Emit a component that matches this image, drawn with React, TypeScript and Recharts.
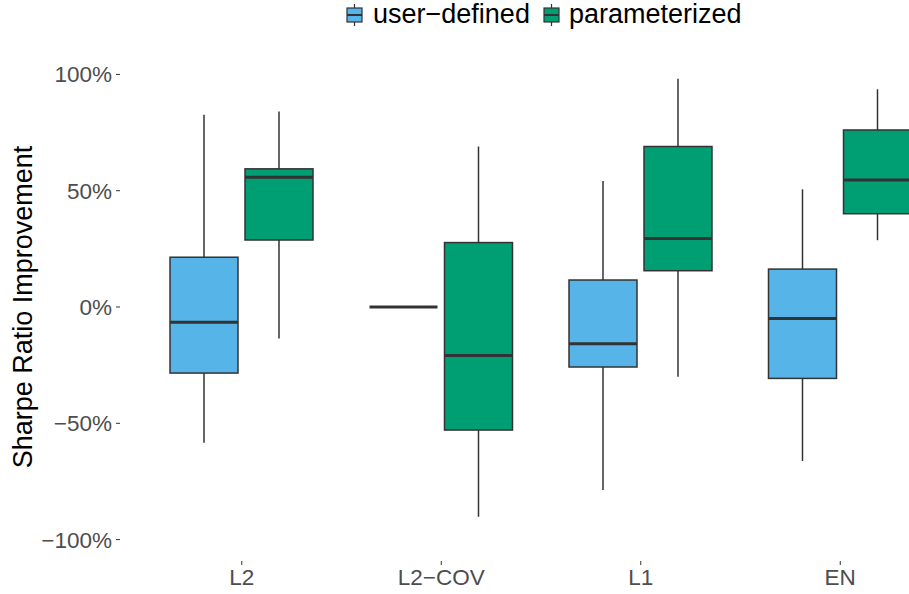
import React from "react";
import { BarChart, Bar, XAxis, YAxis, Legend } from "recharts";

const categories = ["L2", "L2\u2212COV", "L1", "EN"];

// user-defined boxes (% improvement)
const userMin = [-58.4, 0, -78.7, -66.2];
const userQ1 = [-28.4, 0, -25.8, -30.7];
const userMed = [-6.6, 0, -15.8, -4.9];
const userQ3 = [21.4, 0, 11.6, 16.3];
const userMax = [82.6, 0, 54.2, 50.6];

// parameterized boxes
const paramMin = [-13.5, -90.2, -30.0, 28.7];
const paramQ1 = [28.8, -52.9, 15.6, 40.1];
const paramMed = [55.8, -20.8, 29.4, 54.6];
const paramQ3 = [59.4, 27.7, 69.0, 76.1];
const paramMax = [84.0, 69.0, 98.1, 93.6];

const yTicks = [-100, -50, 0, 50, 100];

const BLUE = "#56B4E9";
const GREEN = "#009E73";
const DARK = "#333333";
const FONT = "'Liberation Sans', Arial, Helvetica, sans-serif";

const data = categories.map((cat, i) => ({
  cat,
  user: [userMin[i], userMax[i]],
  userQ1: userQ1[i],
  userMed: userMed[i],
  userQ3: userQ3[i],
  param: [paramMin[i], paramMax[i]],
  paramQ1: paramQ1[i],
  paramMed: paramMed[i],
  paramQ3: paramQ3[i],
}));

// draws a boxplot inside the range bar the library laid out (min..max)
const makeBox = (key: string, color: string) => (props: any) => {
  const { x, y, width, height, payload } = props;
  if (x == null || y == null) return <g />;
  const [lo, hi] = payload[key];
  const top = Math.min(y, y + height);
  const bottom = Math.max(y, y + height);
  const px = (v: number) => (hi === lo ? top : top + ((hi - v) / (hi - lo)) * (bottom - top));
  const cx = x + width / 2;
  const q1 = px(payload[key + "Q1"]);
  const q3 = px(payload[key + "Q3"]);
  const med = px(payload[key + "Med"]);
  if (hi === lo) {
    return <line x1={x} x2={x + width} y1={top} y2={top} stroke={DARK} strokeWidth={3} />;
  }
  return (
    <g>
      <line x1={cx} x2={cx} y1={top} y2={q3} stroke={DARK} strokeWidth={1.5} />
      <line x1={cx} x2={cx} y1={q1} y2={bottom} stroke={DARK} strokeWidth={1.5} />
      <rect x={x} y={q3} width={width} height={q1 - q3} fill={color} stroke={DARK} strokeWidth={1.5} />
      <line x1={x} x2={x + width} y1={med} y2={med} stroke={DARK} strokeWidth={3} />
    </g>
  );
};

const KeyIcon = ({ color }: { color: string }) => (
  <svg width={17} height={22} style={{ display: "block" }}>
    <line x1={8.5} x2={8.5} y1={0} y2={22} stroke={DARK} strokeWidth={1.2} />
    <rect x={1} y={4} width={15} height={14} fill={color} stroke={DARK} strokeWidth={1.2} />
    <line x1={1} x2={16} y1={11} y2={11} stroke={DARK} strokeWidth={2} />
  </svg>
);

const renderLegend = () => (
  <div style={{ position: "relative", height: 32, fontFamily: FONT, fontSize: 27, color: "#000" }}>
    <div style={{ position: "absolute", left: 346, top: 4 }}><KeyIcon color={BLUE} /></div>
    <div style={{ position: "absolute", left: 373, top: -2, lineHeight: "32px" }}>user{"\u2212"}defined</div>
    <div style={{ position: "absolute", left: 543, top: 4 }}><KeyIcon color={GREEN} /></div>
    <div style={{ position: "absolute", left: 569, top: -2, lineHeight: "32px" }}>parameterized</div>
  </div>
);

export default function App() {
  return (
    <div style={{ position: "fixed", left: 0, top: 0, width: 909, height: 594, overflow: "hidden", background: "#fff" }}>
      <BarChart
        width={962}
        height={594}
        data={data}
        margin={{ top: 53, right: 0, bottom: 0, left: 0 }}
        barSize={68}
        barGap={7}
      >
        <XAxis
          dataKey="cat"
          height={33}
          axisLine={false}
          tickLine={{ stroke: DARK }}
          tickSize={4}
          tickMargin={4}
          interval={0}
          padding={{ left: 22, right: 22 }}
          tick={{ fontSize: 22.5, fill: "#4D4D4D", fontFamily: FONT }}
        />
        <YAxis
          type="number"
          width={120}
          domain={[-109.2, 109.2]}
          ticks={yTicks}
          allowDataOverflow
          axisLine={false}
          tickLine={{ stroke: DARK }}
          tickSize={4}
          tickMargin={4}
          tickFormatter={(v: number) => `${v}%`.replace("-", "\u2212")}
          tick={{ fontSize: 22.5, fill: "#4D4D4D", fontFamily: FONT }}
          label={{
            value: "Sharpe Ratio Improvement",
            angle: -90,
            position: "insideLeft",
            offset: 22,
            style: { textAnchor: "middle", fontSize: 27, fill: "#000", fontFamily: FONT },
          }}
        />
        <Legend
          verticalAlign="middle"
          align="center"
          layout="horizontal"
          content={renderLegend}
          wrapperStyle={{ top: 0, left: 0, width: 962, height: 32 }}
        />
        <Bar dataKey="user" name="user-defined" fill={BLUE} shape={makeBox("user", BLUE)} isAnimationActive={false} />
        <Bar dataKey="param" name="parameterized" fill={GREEN} shape={makeBox("param", GREEN)} isAnimationActive={false} />
      </BarChart>
    </div>
  );
}
